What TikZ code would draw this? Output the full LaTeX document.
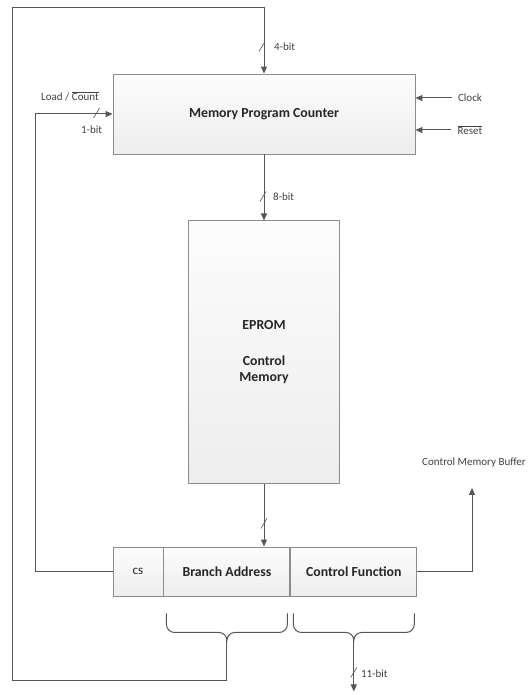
\documentclass[tikz,border=0pt]{standalone}
\usepackage{fontspec}
\setmainfont{Carlito}
\usetikzlibrary{positioning, arrows.meta, calc}
\definecolor{wireg}{RGB}{85,85,85}
\definecolor{edgeg}{RGB}{140,140,140}
\newcommand{\busmark}[1]{\draw[wireg, line width=0.6pt] ($(#1)+(-3,5)$) -- ($(#1)+(3,-5)$);}
% curly brace under a field, tip 44pt below its south anchor
\newcommand{\curly}[1]{\draw[wire] ($(#1.south west)+(3,17)$) -- ++(0,11) to[out=-90,in=180] ++(8,8)
    -- ($(#1.south)+(-8,36)$) to[out=0,in=90] ++(8,8) to[out=90,in=180] ++(8,-8)
    -- ($(#1.south east)+(-11,36)$) to[out=0,in=-90] ++(8,-8) -- ++(0,-11);}

\begin{document}
\begin{tikzpicture}[x=1pt, y=-1pt,
            box/.style={draw=edgeg, line width=0.9pt, top color=gray!2, bottom color=gray!14,
                        inner sep=0pt, align=center, text=black!85,
                        font=\fontsize{13.8}{16}\selectfont\bfseries},
            lab/.style={font=\fontsize{11}{13}\selectfont, text=black!75, inner sep=1pt},
            arr/.style={-{Triangle[length=7pt, width=6pt]}, wireg, line width=1pt},
            wire/.style={wireg, line width=1pt}
        ]
            \useasboundingbox (0,0) rectangle (531,695);

            % blocks
            \node[box, minimum width=302pt, minimum height=80pt] (mpc) at (264,114) {Memory Program Counter};
            \node[box, minimum width=151pt, minimum height=263pt, below=66pt of mpc] (eprom) {EPROM\\[20pt]Control\\Memory};
            \node[box, minimum width=50pt, minimum height=49pt, font=\fontsize{13}{15}\selectfont] (cs) at (138,571.5) {cs};
            \node[box, minimum width=126pt, minimum height=49pt, right=0pt of cs] (ba) {Branch Address};
            \node[box, minimum width=126pt, minimum height=49pt, right=0pt of ba] (cf) {Control Function};

            % labels
            \node[lab] (clk) at (470,98) {Clock};
            \node[lab] (rst) at (470,130) {$\overline{\mbox{Reset}}$};
            \node[lab] (ldc) at (70,96) {Load / $\overline{\mbox{Count}}$};
            \node[lab] (cmb) at (474,463) {Control Memory Buffer};

            % braces
            \curly{ba}
            \curly{cf}
            \coordinate (batip) at ($(ba.south)+(0,44)$);
            \coordinate (cftip) at ($(cf.south)+(0,44)$);
            \coordinate (out11) at ($(cftip)+(0,51)$);
            \coordinate (loopc) at (12,8);
            \coordinate (cmbin) at ($(cmb.south)+(-2,19)$);

            % connectors
            \draw[arr] (batip) -- ++(0,40) -| (loopc) -| (mpc.north);
            \busmark{$(mpc.north)+(-2,-27)$}
            \node[lab, anchor=west] at ($(mpc.north)+(9,-27)$) {4-bit};

            \draw[arr] (cs.west) -- ++(-77,0) |- (mpc.west);
            \busmark{$(mpc.west)+(-16,-1)$}
            \node[lab] at ($(mpc.west)+(-21,16)$) {1-bit};

            \draw[arr] ($(clk.west)+(-5,0)$) -- (clk.west -| mpc.east);
            \draw[arr] ($(rst.west)+(-5,0)$) -- (rst.west -| mpc.east);

            \draw[arr] (mpc.south) -- (eprom.north);
            \busmark{$(eprom.north)+(-1,-24)$}
            \node[lab, anchor=west] at ($(eprom.north)+(8,-24)$) {8-bit};

            \draw[arr] (eprom.south) -- (eprom.south |- ba.north);
            \busmark{$(eprom.south)+(0,39)$}

            \draw[arr] (cf.east) -| (cmbin);

            \draw[arr] (cftip) -- (out11);
            \busmark{$(cftip)+(0,32)$}
            \node[lab, anchor=west] at ($(cftip)+(6,33)$) {11-bit};
        \end{tikzpicture}
\end{document}
